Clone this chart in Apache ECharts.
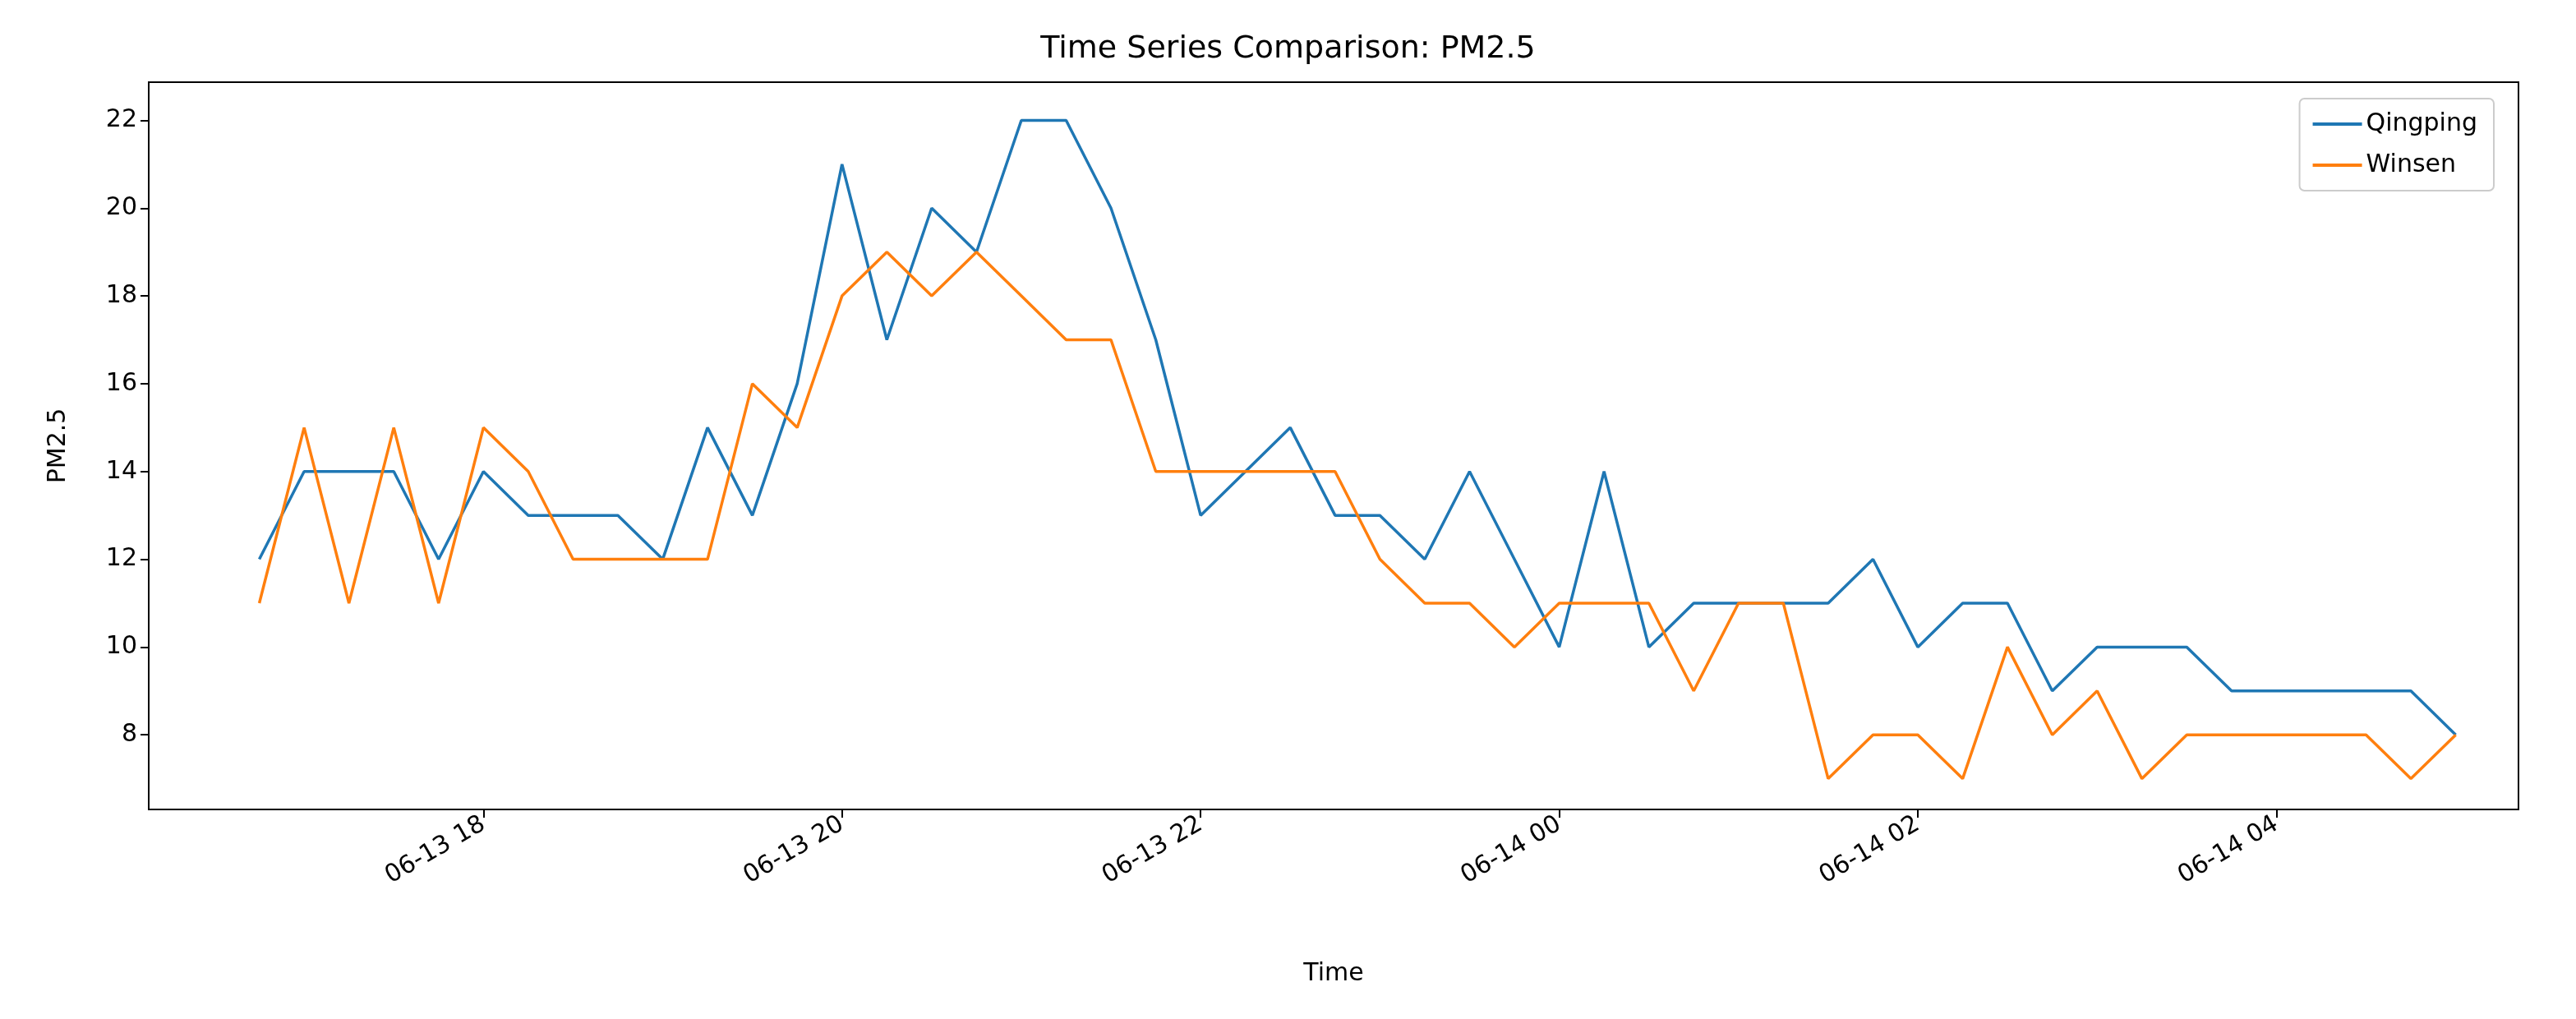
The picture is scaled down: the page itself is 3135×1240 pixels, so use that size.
<!DOCTYPE html>
<html>
<head>
<meta charset="utf-8">
<script src="https://cdn.jsdelivr.net/npm/echarts@6/dist/echarts.min.js"></script>
<style>html,body{margin:0;padding:0;background:#fff}#chart{width:3135px;height:1240px}</style>
</head>
<body>
<div id="chart"></div>
<script>
// 15-minute samples from 06-13 16:45 to 06-14 05:00
const startTime = '2023-06-13T16:45:00';
const stepMinutes = 15;
const qingping = [12,14,14,14,12,14,13,13,13,12,15,13,16,21,17,20,19,22,22,20,17,13,14,15,13,13,12,14,12,10,14,10,11,11,11,11,12,10,11,11,9,10,10,10,9,9,9,9,9,8];
const winsen = [11,15,11,15,11,15,14,12,12,12,12,16,15,18,19,18,19,18,17,17,14,14,14,14,14,12,11,11,10,11,11,11,9,11,11,7,8,8,7,10,8,9,7,8,8,8,8,8,7,8];
const yTicks = [8,10,12,14,16,18,20,22];
const xTickLabels = ['2023-06-13T18:00:00','2023-06-13T20:00:00','2023-06-13T22:00:00','2023-06-14T00:00:00','2023-06-14T02:00:00','2023-06-14T04:00:00'];

const t0 = new Date(startTime).getTime();
const toPairs = arr => arr.map((v,i)=>[t0 + i*stepMinutes*60000, v]);
const xTicks = xTickLabels.map(s=>new Date(s).getTime());
const pad = n => String(n).padStart(2,'0');
const font = 'DejaVu Sans';

const chart = echarts.init(document.getElementById('chart'));
chart.setOption({
  animation:false,
  textStyle:{fontFamily:font,color:'#000'},
  title:{text:'Time Series Comparison: PM2.5',left:'center',top:36,textStyle:{fontFamily:font,fontSize:38,fontWeight:'normal',color:'#000'}},
  legend:{right:100,top:120,orient:'vertical',itemWidth:60,itemHeight:4,itemGap:20,icon:'rect',
    borderColor:'#ccc',borderWidth:2,borderRadius:6,padding:[16,20,16,16],
    textStyle:{fontFamily:font,fontSize:30,color:'#000'}},
  grid:{left:181,right:70,top:100,bottom:255,show:true,borderColor:'#000',borderWidth:2,backgroundColor:'transparent'},
  xAxis:{type:'value',
    min:new Date('2023-06-13T16:08:00').getTime(),
    max:new Date('2023-06-14T05:21:00').getTime(),
    name:'Time',nameLocation:'middle',nameGap:185,nameTextStyle:{fontFamily:font,fontSize:30,color:'#000'},
    splitLine:{show:false},
    axisLine:{lineStyle:{color:'#000',width:2}},
    axisTick:{customValues:xTicks,length:10,lineStyle:{color:'#000',width:2}},
    axisLabel:{customValues:xTicks,rotate:30,fontFamily:font,fontSize:30,color:'#000',margin:16,
      formatter:v=>{const d=new Date(v);return pad(d.getMonth()+1)+'-'+pad(d.getDate())+' '+pad(d.getHours());}}},
  yAxis:{type:'value',min:6.3,max:22.87,
    name:'PM2.5',nameLocation:'middle',nameGap:95,nameTextStyle:{fontFamily:font,fontSize:30,color:'#000'},
    splitLine:{show:false},
    axisLine:{show:true,lineStyle:{color:'#000',width:2}},
    axisTick:{show:true,customValues:yTicks,length:10,lineStyle:{color:'#000',width:2}},
    axisLabel:{customValues:yTicks,fontFamily:font,fontSize:30,color:'#000',margin:14}},
  series:[
    {name:'Qingping',type:'line',data:toPairs(qingping),showSymbol:false,lineStyle:{color:'#1f77b4',width:3.5},itemStyle:{color:'#1f77b4'}},
    {name:'Winsen',type:'line',data:toPairs(winsen),showSymbol:false,lineStyle:{color:'#ff7f0e',width:3.5},itemStyle:{color:'#ff7f0e'}}
  ]
});
</script>
</body>
</html>
